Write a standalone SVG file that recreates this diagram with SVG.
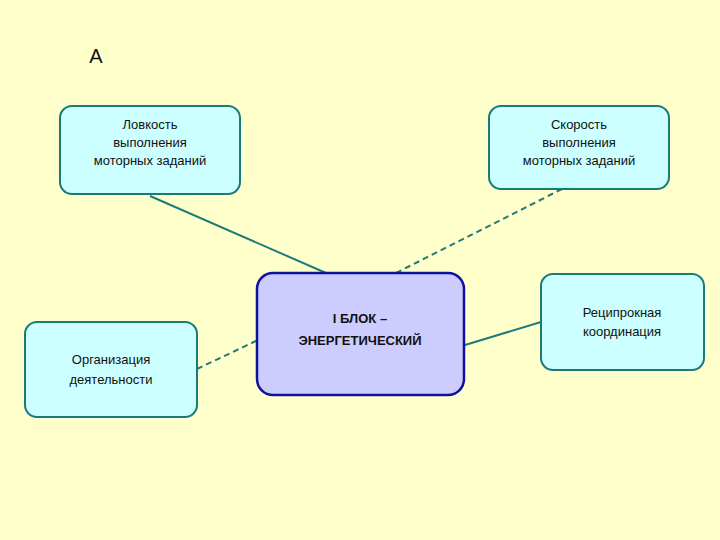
<svg xmlns="http://www.w3.org/2000/svg" width="720" height="540" viewBox="0 0 720 540">
<style>
.n{fill:#ccffff;stroke:#1a7a7a;stroke-width:2}
.t{font-family:"Liberation Sans",Arial,sans-serif;font-size:13px;fill:#111;text-anchor:middle}
.c{stroke:#1f7a7a;stroke-width:2;fill:none}
.d{stroke-dasharray:6 4}
</style>
<rect width="720" height="540" fill="#ffffcc"/>
<text x="96" y="63" font-family="Liberation Sans,Arial,sans-serif" font-size="20" fill="#111" text-anchor="middle">А</text>
<g id="connectors">
<line class="c" x1="150" y1="196" x2="326" y2="273"/>
<line class="c d" x1="562" y1="189" x2="396" y2="273"/>
<line class="c d" x1="197" y1="369" x2="258" y2="340"/>
<line class="c" x1="465" y1="345" x2="541" y2="322"/>
</g>
<g id="n1"><rect class="n" x="60" y="106" width="180" height="88" rx="12"/>
<text class="t" x="150" y="129">Ловкость</text><text class="t" x="150" y="147">выполнения</text><text class="t" x="150" y="165">моторных заданий</text></g>
<g id="n2"><rect class="n" x="489" y="106" width="180" height="83" rx="12"/>
<text class="t" x="579" y="129">Скорость</text><text class="t" x="579" y="147">выполнения</text><text class="t" x="579" y="165">моторных заданий</text></g>
<g id="n3"><rect x="257" y="273" width="207" height="122" rx="16" fill="#ccccff" stroke="#1010a0" stroke-width="2.5"/>
<text class="t" x="360" y="323" font-weight="bold" fill="#5a1aa0" font-size="14">I БЛОК –</text>
<text class="t" x="360" y="345" font-weight="bold" fill="#5a1aa0" font-size="14">ЭНЕРГЕТИЧЕСКИЙ</text></g>
<g id="n4"><rect class="n" x="541" y="274" width="163" height="96" rx="12"/>
<text class="t" x="622" y="317">Реципрокная</text><text class="t" x="622" y="336">координация</text></g>
<g id="n5"><rect class="n" x="25" y="322" width="172" height="95" rx="12"/>
<text class="t" x="111" y="364">Организация</text><text class="t" x="111" y="384">деятельности</text></g>
</svg>
